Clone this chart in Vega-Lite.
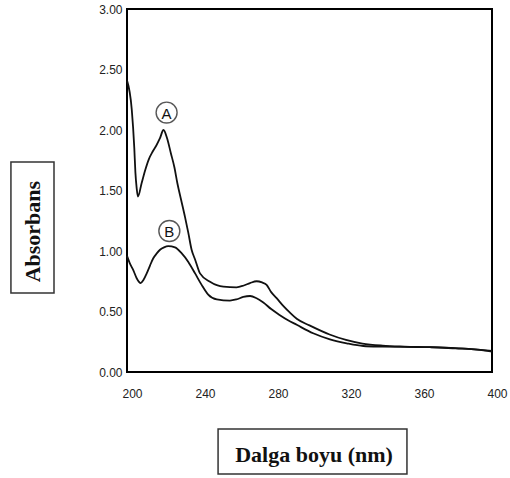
{
  "$schema": "https://vega.github.io/schema/vega-lite/v6.json",
  "width": 365,
  "height": 363,
  "autosize": {"type": "none"},
  "padding": {"left": 127, "top": 9, "right": 18, "bottom": 106},
  "background": "white",
  "config": {
    "view": {"stroke": "black", "strokeWidth": 2},
    "axis": {"domain": false, "ticks": false, "grid": false, "labelFont": "Liberation Sans", "labelFontSize": 12, "labelColor": "#222"}
  },
  "layer": [
    {
      "data": {"values": [
        {"s":"A","wl":200,"abs":2.41},{"s":"A","wl":202.6,"abs":2.17},{"s":"A","wl":204,"abs":1.85},{"s":"A","wl":204.6,"abs":1.65},{"s":"A","wl":205.3,"abs":1.52},{"s":"A","wl":206,"abs":1.45},{"s":"A","wl":208,"abs":1.56},{"s":"A","wl":210,"abs":1.67},{"s":"A","wl":212,"abs":1.76},{"s":"A","wl":214,"abs":1.82},{"s":"A","wl":216,"abs":1.87},{"s":"A","wl":218,"abs":1.93},{"s":"A","wl":220,"abs":2.0},{"s":"A","wl":222,"abs":1.93},{"s":"A","wl":224,"abs":1.81},{"s":"A","wl":226,"abs":1.69},{"s":"A","wl":227.6,"abs":1.56},{"s":"A","wl":229.7,"abs":1.42},{"s":"A","wl":231.8,"abs":1.28},{"s":"A","wl":233.6,"abs":1.15},{"s":"A","wl":235.4,"abs":1.01},{"s":"A","wl":237.3,"abs":0.93},{"s":"A","wl":240,"abs":0.815},{"s":"A","wl":245.5,"abs":0.746},{"s":"A","wl":252.8,"abs":0.705},{"s":"A","wl":260,"abs":0.70},{"s":"A","wl":264,"abs":0.715},{"s":"A","wl":267.4,"abs":0.735},{"s":"A","wl":271,"abs":0.75},{"s":"A","wl":274,"abs":0.74},{"s":"A","wl":276.5,"abs":0.72},{"s":"A","wl":279,"abs":0.66},{"s":"A","wl":282,"abs":0.61},{"s":"A","wl":286,"abs":0.54},{"s":"A","wl":289.3,"abs":0.49},{"s":"A","wl":293,"abs":0.44},{"s":"A","wl":300,"abs":0.385},{"s":"A","wl":311,"abs":0.31},{"s":"A","wl":320,"abs":0.265},{"s":"A","wl":329,"abs":0.235},{"s":"A","wl":340,"abs":0.218},{"s":"A","wl":352,"abs":0.21},{"s":"A","wl":366,"abs":0.205},{"s":"A","wl":380,"abs":0.197},{"s":"A","wl":392,"abs":0.185},{"s":"A","wl":400,"abs":0.175},
        {"s":"B","wl":200,"abs":0.96},{"s":"B","wl":201.5,"abs":0.90},{"s":"B","wl":203.5,"abs":0.84},{"s":"B","wl":205.3,"abs":0.775},{"s":"B","wl":207.5,"abs":0.735},{"s":"B","wl":209,"abs":0.76},{"s":"B","wl":210.8,"abs":0.815},{"s":"B","wl":212.6,"abs":0.88},{"s":"B","wl":214.4,"abs":0.94},{"s":"B","wl":216.3,"abs":0.98},{"s":"B","wl":218.1,"abs":1.01},{"s":"B","wl":220.3,"abs":1.03},{"s":"B","wl":222.6,"abs":1.04},{"s":"B","wl":226.3,"abs":1.03},{"s":"B","wl":230,"abs":0.98},{"s":"B","wl":233.6,"abs":0.91},{"s":"B","wl":237.3,"abs":0.815},{"s":"B","wl":240.9,"abs":0.72},{"s":"B","wl":244.5,"abs":0.64},{"s":"B","wl":249.2,"abs":0.60},{"s":"B","wl":256.4,"abs":0.59},{"s":"B","wl":260,"abs":0.60},{"s":"B","wl":263.7,"abs":0.62},{"s":"B","wl":267.4,"abs":0.628},{"s":"B","wl":271,"abs":0.61},{"s":"B","wl":274.7,"abs":0.575},{"s":"B","wl":279,"abs":0.52},{"s":"B","wl":283.8,"abs":0.47},{"s":"B","wl":288,"abs":0.43},{"s":"B","wl":293,"abs":0.39},{"s":"B","wl":302,"abs":0.32},{"s":"B","wl":311.2,"abs":0.27},{"s":"B","wl":320.4,"abs":0.237},{"s":"B","wl":329.5,"abs":0.215},{"s":"B","wl":340,"abs":0.21},{"s":"B","wl":352,"abs":0.207},{"s":"B","wl":366,"abs":0.205},{"s":"B","wl":380,"abs":0.195},{"s":"B","wl":392,"abs":0.185},{"s":"B","wl":400,"abs":0.168}
      ]},
      "mark": {"type": "line", "interpolate": "monotone", "color": "#111", "strokeWidth": 1.8},
      "encoding": {
        "x": {"field": "wl", "type": "quantitative", "title": null, "scale": {"domain": [200, 400], "nice": false, "zero": false},
              "axis": {"values": [200, 240, 280, 320, 360, 400], "labelAlign": "center", "labelOffset": 5, "labelBaseline": "top", "labelPadding": 16, "labelFlush": false, "labelOverlap": false, "labelBound": false}},
        "y": {"field": "abs", "type": "quantitative", "title": null, "scale": {"domain": [0, 3], "nice": false},
              "axis": {"values": [0, 0.5, 1, 1.5, 2, 2.5, 3], "format": ".2f", "labelPadding": 5, "labelFlush": false, "labelOverlap": false}},
        "detail": {"field": "s"}
      }
    },
    {
      "data": {"values": [{"label": "A", "wl": 221.7, "abs": 2.144}, {"label": "B", "wl": 223.2, "abs": 1.165}]},
      "mark": {"type": "point", "shape": "circle", "filled": false, "size": 440, "stroke": "#111", "strokeWidth": 1.4},
      "encoding": {"x": {"field": "wl", "type": "quantitative", "title": null}, "y": {"field": "abs", "type": "quantitative", "title": null}}
    },
    {
      "data": {"values": [{"label": "A", "wl": 221.7, "abs": 2.144}, {"label": "B", "wl": 223.2, "abs": 1.165}]},
      "mark": {"type": "text", "font": "Liberation Sans", "fontSize": 15, "color": "#111", "baseline": "middle", "align": "center", "dy": 1},
      "encoding": {"x": {"field": "wl", "type": "quantitative", "title": null}, "y": {"field": "abs", "type": "quantitative", "title": null}, "text": {"field": "label"}}
    },
    {
      "data": {"values": [{}]},
      "mark": {"type": "rect", "fill": null, "stroke": "#333", "strokeWidth": 1.5},
      "encoding": {"x": {"datum": 136.4, "type": "quantitative", "title": null}, "x2": {"datum": 160}, "y": {"datum": 1.736, "type": "quantitative", "title": null}, "y2": {"datum": 0.653}}
    },
    {
      "data": {"values": [{}]},
      "mark": {"type": "text", "text": "Absorbans", "font": "Liberation Serif", "fontWeight": "bold", "fontSize": 22, "angle": 270, "align": "center", "baseline": "middle", "color": "#111"},
      "encoding": {"x": {"datum": 148.3, "type": "quantitative", "title": null}, "y": {"datum": 1.16, "type": "quantitative", "title": null}}
    },
    {
      "data": {"values": [{}]},
      "mark": {"type": "rect", "fill": null, "stroke": "#333", "strokeWidth": 1.5},
      "encoding": {"x": {"datum": 249.9, "type": "quantitative", "title": null}, "x2": {"datum": 353.4}, "y": {"datum": -0.471, "type": "quantitative", "title": null}, "y2": {"datum": -0.843}}
    },
    {
      "data": {"values": [{}]},
      "mark": {"type": "text", "text": "Dalga boyu (nm)", "font": "Liberation Serif", "fontWeight": "bold", "fontSize": 22, "align": "center", "baseline": "middle", "color": "#111"},
      "encoding": {"x": {"datum": 302.5, "type": "quantitative", "title": null}, "y": {"datum": -0.686, "type": "quantitative", "title": null}}
    }
  ]
}
